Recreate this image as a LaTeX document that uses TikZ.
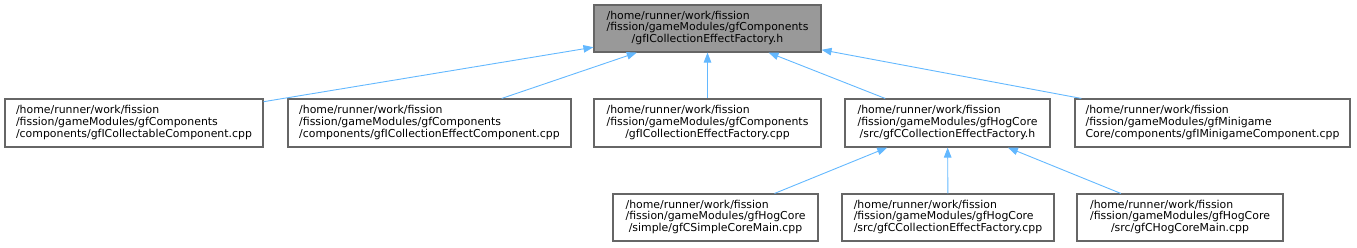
\documentclass[tikz,border=0pt]{standalone}
\usepackage{fontspec}
\setmainfont{DejaVu Sans}
\usetikzlibrary{arrows.meta}
\definecolor{edgeblue}{HTML}{63B8FF}
\definecolor{boxgray}{HTML}{666666}
\definecolor{topgray}{HTML}{999999}
\newcommand{\threel}[3]{\begin{tabular}{@{}l@{}}#1\\#2\\\multicolumn{1}{@{}c@{}}{#3}\end{tabular}}
\begin{document}
\begin{tikzpicture}[x=1pt,y=-1pt,
  box/.style={draw=boxgray, line width=1.1pt, fill=white, inner sep=0pt,
    minimum height=47pt, font=\fontsize{10.9}{11.8}\selectfont},
  edge/.style={draw=edgeblue, line width=0.9pt, {Triangle[length=10pt,width=7.5pt]}-}
]
\useasboundingbox (0,0) rectangle (1357,247);
\node[box, fill=topgray, minimum width=227pt] (top) at (707.5,28.5)
  {\threel{/home/runner/work/fission}{/fission/gameModules/gfComponents}{/gfICollectionEffectFactory.h}};
\node[box, minimum width=258pt, minimum height=48pt] (b1) at (134,123)
  {\threel{/home/runner/work/fission}{/fission/gameModules/gfComponents}{/components/gfICollectableComponent.cpp}};
\node[box, minimum width=283pt, minimum height=48pt] (b2) at (429.5,123)
  {\threel{/home/runner/work/fission}{/fission/gameModules/gfComponents}{/components/gfICollectionEffectComponent.cpp}};
\node[box, minimum width=227pt, minimum height=48pt] (b3) at (707.5,123)
  {\threel{/home/runner/work/fission}{/fission/gameModules/gfComponents}{/gfICollectionEffectFactory.cpp}};
\node[box, minimum width=205pt, minimum height=48pt] (b4) at (947.5,123)
  {\threel{/home/runner/work/fission}{/fission/gameModules/gfHogCore}{/src/gfCCollectionEffectFactory.h}};
\node[box, minimum width=275pt, minimum height=48pt] (b5) at (1212.5,123)
  {\threel{/home/runner/work/fission}{/fission/gameModules/gfMinigame}{Core/components/gfIMinigameComponent.cpp}};
\node[box, minimum width=205pt] (c1) at (715.5,217.5)
  {\threel{/home/runner/work/fission}{/fission/gameModules/gfHogCore}{/simple/gfCSimpleCoreMain.cpp}};
\node[box, minimum width=212pt] (c2) at (948,217.5)
  {\threel{/home/runner/work/fission}{/fission/gameModules/gfHogCore}{/src/gfCCollectionEffectFactory.cpp}};
\node[box, minimum width=206pt] (c3) at (1180,217.5)
  {\threel{/home/runner/work/fission}{/fission/gameModules/gfHogCore}{/src/gfCHogCoreMain.cpp}};
\foreach \n in {b1,b2,b3,b4,b5} \draw[edge] (top) -- (\n);
\foreach \n in {c1,c2,c3} \draw[edge] (b4) -- (\n);
\end{tikzpicture}
\end{document}
